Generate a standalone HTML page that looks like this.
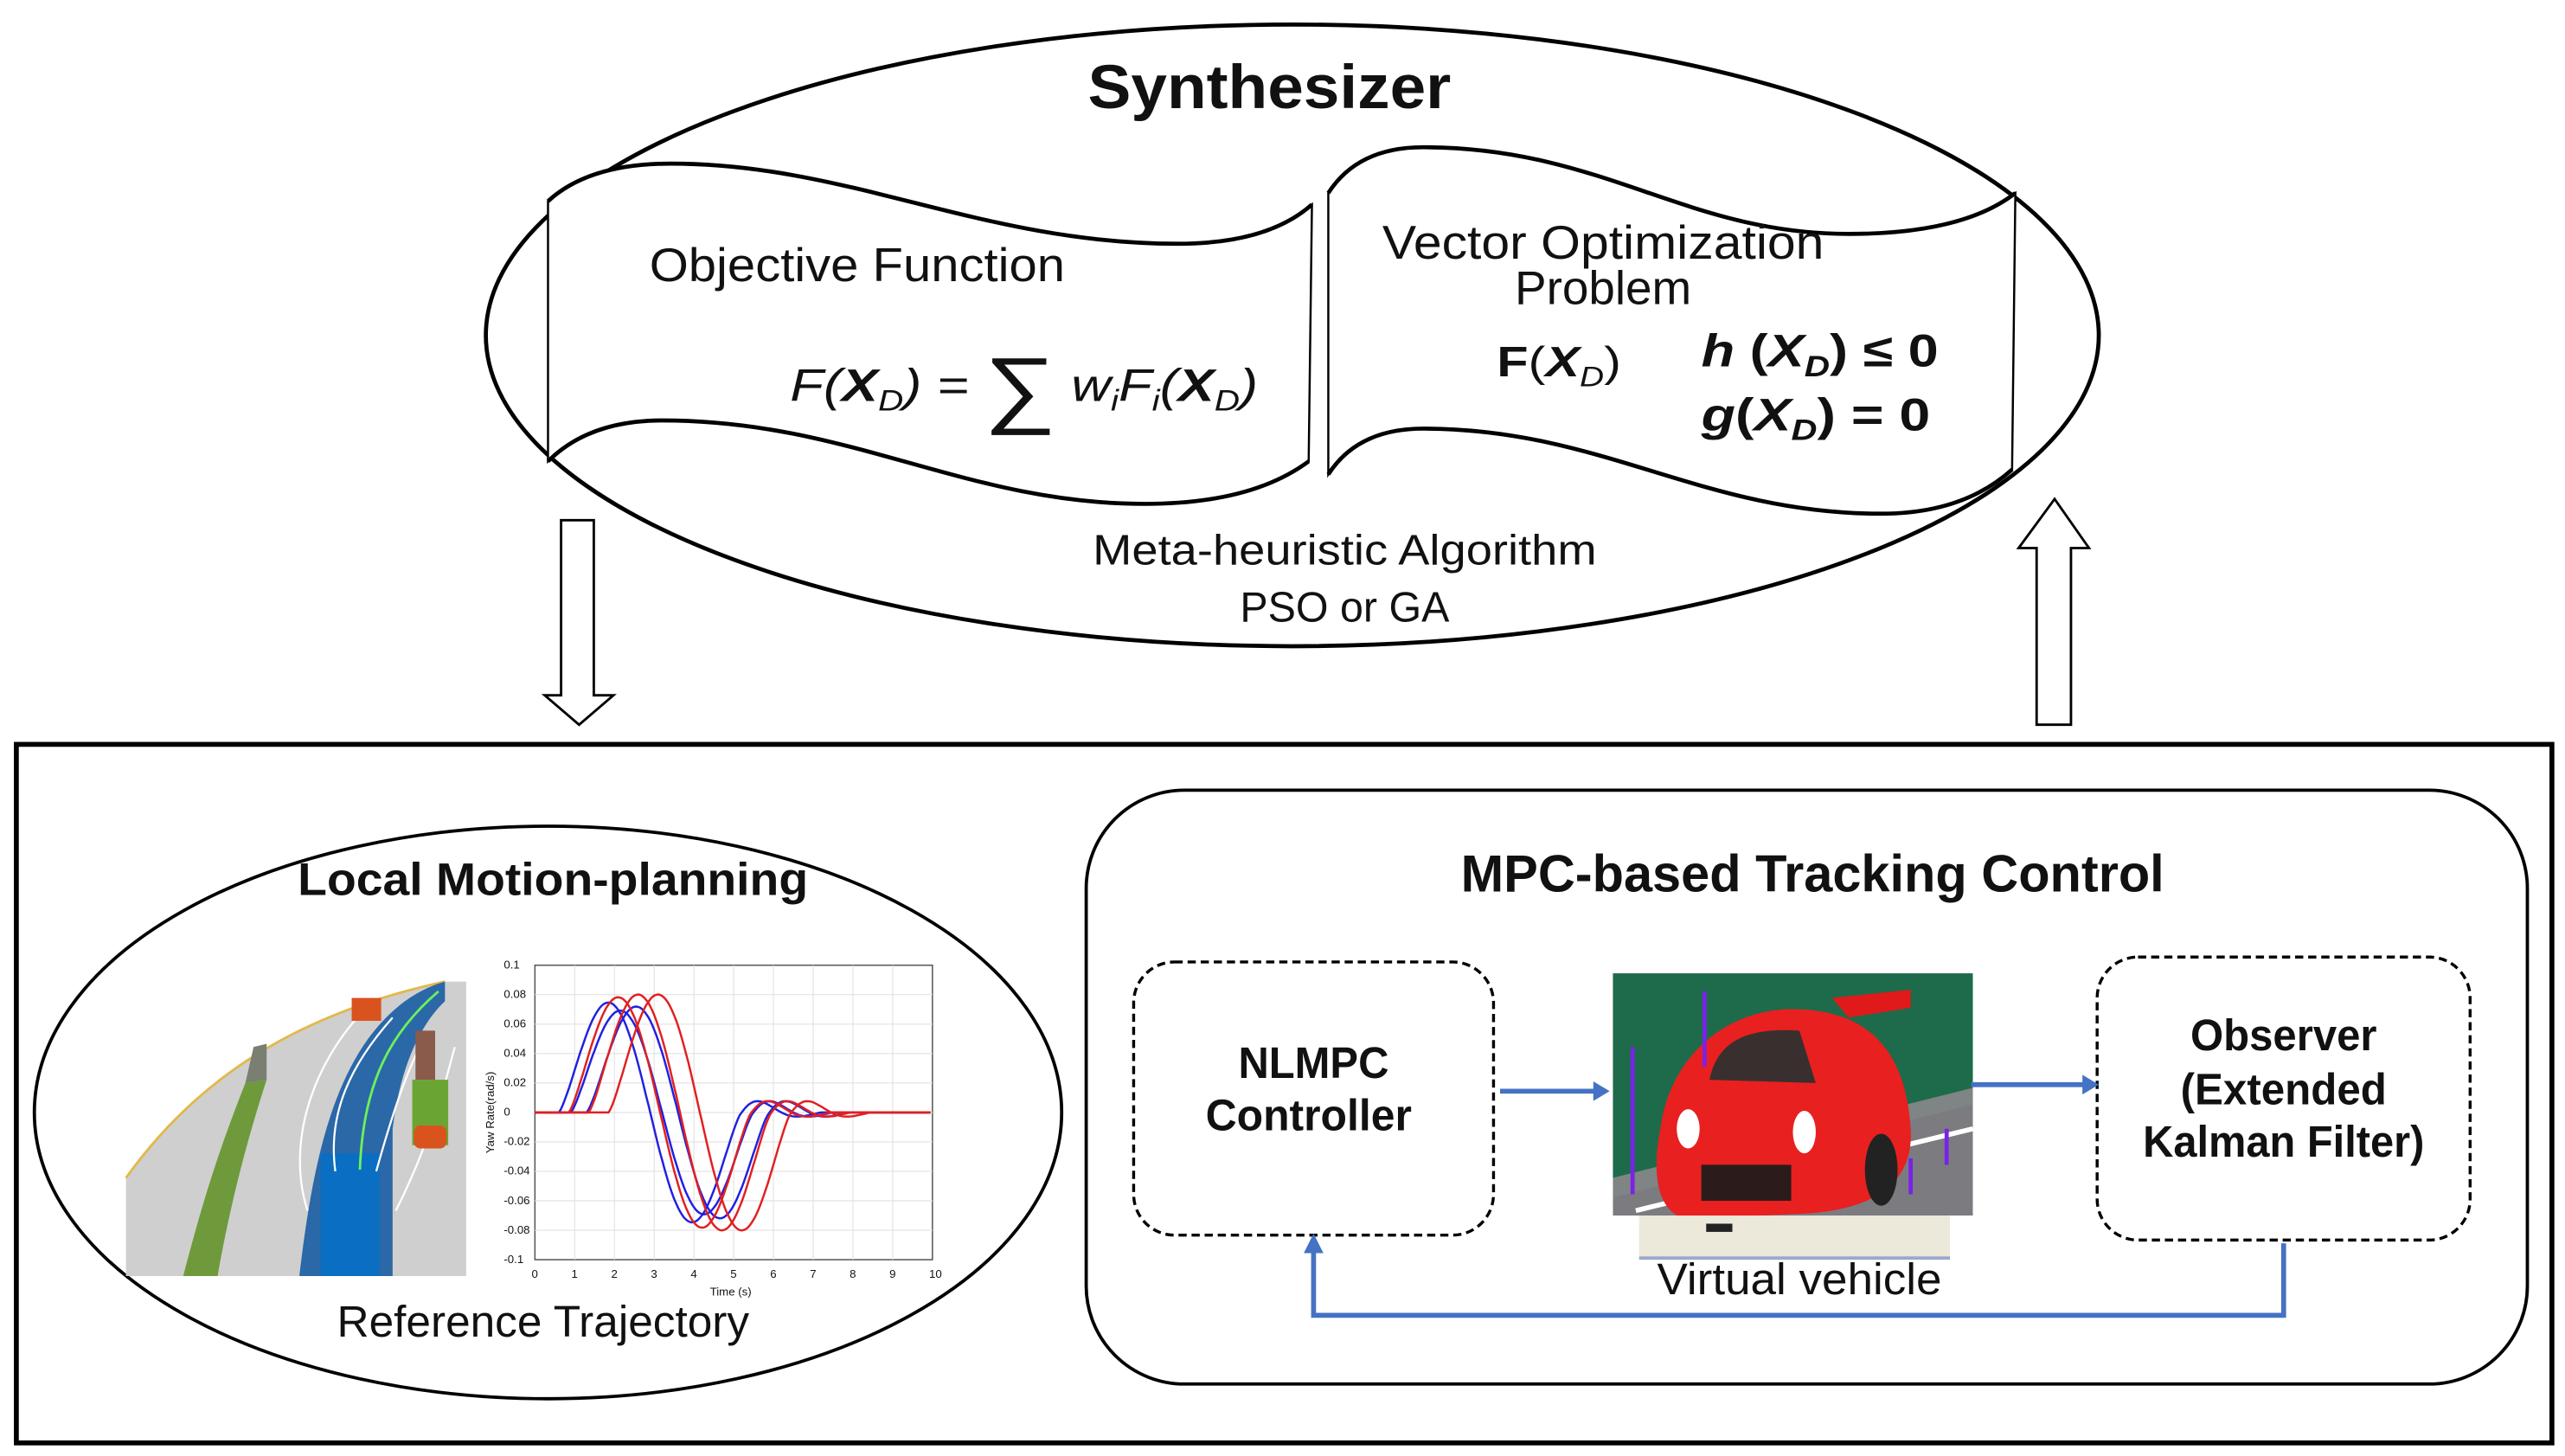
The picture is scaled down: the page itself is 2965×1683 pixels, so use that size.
<!DOCTYPE html>
<html><head><meta charset="utf-8"><style>
html,body{margin:0;padding:0;background:#fff;}
svg{display:block;}
text{font-family:"Liberation Sans",sans-serif;fill:#111;}
</style></head><body>
<svg id="s" width="2965" height="1683" viewBox="0 0 1568 890" preserveAspectRatio="none" xmlns="http://www.w3.org/2000/svg">
<rect width="1568" height="890" fill="#fff"/>
<!-- Synthesizer ellipse -->
<ellipse cx="790" cy="205" rx="493" ry="190" fill="none" stroke="#000" stroke-width="2.5"/>
<text x="776" y="66" font-size="38" font-weight="bold" text-anchor="middle" textLength="222" lengthAdjust="spacingAndGlyphs">Synthesizer</text>
<!-- left banner -->
<path d="M335,123 Q360,100 410,100 C520,100 600,149 720,149 Q775,149 802,125 L800,282 Q765,308 700,308 C590,308 520,257 405,257 Q360,257 335,282 Z" fill="#fff" stroke="#000" stroke-width="1.3"/>
<path d="M335,123 Q360,100 410,100 C520,100 600,149 720,149 Q775,149 802,125" fill="none" stroke="#000" stroke-width="2.5"/>
<path d="M335,282 Q360,257 405,257 C520,257 590,308 700,308 Q765,308 800,282" fill="none" stroke="#000" stroke-width="2.5"/>
<!-- right banner -->
<path d="M812,118 Q830,90 870,90 C980,90 1030,143 1130,143 Q1200,143 1232,118 L1230,287 Q1200,314 1150,314 C1040,314 980,262 870,262 Q830,262 812,290 Z" fill="#fff" stroke="#000" stroke-width="1.3"/>
<path d="M812,118 Q830,90 870,90 C980,90 1030,143 1130,143 Q1200,143 1232,118" fill="none" stroke="#000" stroke-width="2.5"/>
<path d="M812,290 Q830,262 870,262 C980,262 1040,314 1150,314 Q1200,314 1230,287" fill="none" stroke="#000" stroke-width="2.5"/>
<text x="397" y="172" font-size="29" textLength="254" lengthAdjust="spacingAndGlyphs">Objective Function</text>
<text x="483" y="245" font-size="28" font-family="Liberation Serif" font-style="italic" textLength="286" lengthAdjust="spacingAndGlyphs">F(<tspan font-weight="bold">X</tspan><tspan font-size="18" dy="6">D</tspan><tspan dy="-6">) = </tspan><tspan font-size="52" font-style="normal" dy="10">∑</tspan><tspan dy="-10"> w</tspan><tspan font-size="18" dy="6">i</tspan><tspan dy="-6">F</tspan><tspan font-size="18" dy="6">i</tspan><tspan dy="-6">(</tspan><tspan font-weight="bold">X</tspan><tspan font-size="18" dy="6">D</tspan><tspan dy="-6">)</tspan></text>
<text x="845" y="158" font-size="29" textLength="270" lengthAdjust="spacingAndGlyphs">Vector Optimization</text>
<text x="980" y="186" font-size="29" text-anchor="middle">Problem</text>
<text x="915" y="230" font-size="26" font-family="Liberation Serif" textLength="76" lengthAdjust="spacingAndGlyphs"><tspan font-family="Liberation Sans" font-weight="bold">F</tspan>(<tspan font-weight="bold" font-style="italic">X</tspan><tspan font-size="17" font-style="italic" dy="6">D</tspan><tspan dy="-6">)</tspan></text>
<text x="1040" y="224" font-size="28" font-family="Liberation Serif" font-weight="bold" textLength="145" lengthAdjust="spacingAndGlyphs"><tspan font-style="italic">h</tspan> (<tspan font-style="italic">X</tspan><tspan font-size="18" font-style="italic" dy="6">D</tspan><tspan dy="-6">) ≤ 0</tspan></text>
<text x="1040" y="263" font-size="28" font-family="Liberation Serif" font-weight="bold" textLength="140" lengthAdjust="spacingAndGlyphs"><tspan font-style="italic">g</tspan>(<tspan font-style="italic">X</tspan><tspan font-size="18" font-style="italic" dy="6">D</tspan><tspan dy="-6">) = 0</tspan></text>
<text x="822" y="345" font-size="26" text-anchor="middle" textLength="308" lengthAdjust="spacingAndGlyphs">Meta-heuristic Algorithm</text>
<text x="822" y="380" font-size="26" text-anchor="middle" textLength="128" lengthAdjust="spacingAndGlyphs">PSO or GA</text>
<!-- arrows -->
<path d="M343,318 L363,318 L363,425 L375,425 L354,443 L333,425 L343,425 Z" fill="#fff" stroke="#000" stroke-width="1.5"/>
<path d="M1245,443 L1266,443 L1266,335 L1277,335 L1256,305 L1234,335 L1245,335 Z" fill="#fff" stroke="#000" stroke-width="1.5"/>
<!-- outer box -->
<rect x="10" y="455" width="1550" height="427" fill="none" stroke="#000" stroke-width="3"/>
<!-- left ellipse -->
<ellipse cx="335" cy="680" rx="314" ry="175" fill="none" stroke="#000" stroke-width="2"/>
<text x="338" y="547" font-size="28" font-weight="bold" text-anchor="middle" textLength="312" lengthAdjust="spacingAndGlyphs">Local Motion-planning</text>
<!-- road image -->
<g>
<path d="M77,720 C120,660 180,620 272,600 L285,600 L285,780 L77,780 Z" fill="#cfcfcf"/>
<path d="M77,720 C120,660 180,620 272,600" fill="none" stroke="#e2b84a" stroke-width="1.5"/>
<path d="M112,780 C125,730 135,700 150,662 L163,660 C150,700 140,740 133,780 Z" fill="#6f9a3c"/>
<path d="M150,662 L155,640 L163,638 L163,660 Z" fill="#7a7f72"/>
<path d="M183,780 C190,720 200,670 225,635 C240,615 255,605 272,600 L272,612 C258,625 245,650 240,690 L240,780 Z" fill="#2a68a8"/>
<rect x="196" y="705" width="36" height="75" fill="#0a6fc2"/>
<path d="M220,715 C222,660 240,630 268,606" fill="none" stroke="#6ef05a" stroke-width="1.5"/>
<path d="M205,716 C200,680 215,650 240,622 M230,716 C240,680 250,650 262,630 M188,740 C175,700 190,650 225,615 M242,740 C262,700 270,670 278,640" fill="none" stroke="#fff" stroke-width="1.2"/>
<rect x="215" y="610" width="18" height="14" fill="#d9531e"/>
<rect x="252" y="660" width="22" height="40" fill="#6aa533"/>
<rect x="253" y="688" width="20" height="14" rx="4" fill="#d9531e"/>
<rect x="254" y="630" width="12" height="30" fill="#8a5a4a"/>
</g>
<!-- plot -->
<g font-size="7" fill="#333">
<rect x="327" y="590" width="243" height="180" fill="#fff" stroke="#555" stroke-width="0.8"/>
<g id="grid" stroke="#e2e2e2" stroke-width="0.6"></g>
<text x="434" y="792" font-size="7">Time (s)</text>
<text x="0" y="0" font-size="7" transform="translate(302,705) rotate(-90)">Yaw Rate(rad/s)</text>
<g id="ticks"></g>
<g id="curves" fill="none" stroke-width="1.3"></g>
</g>
<!-- MPC box -->
<rect x="664" y="483" width="881" height="363" rx="60" fill="none" stroke="#000" stroke-width="2"/>
<text x="1108" y="545" font-size="32" font-weight="bold" text-anchor="middle" textLength="430" lengthAdjust="spacingAndGlyphs">MPC-based Tracking Control</text>
<rect x="693" y="588" width="220" height="167" rx="25" fill="none" stroke="#000" stroke-width="1.8" stroke-dasharray="5,3"/>
<text x="803" y="659" font-size="27" font-weight="bold" text-anchor="middle" textLength="92" lengthAdjust="spacingAndGlyphs">NLMPC</text>
<text x="800" y="691" font-size="27" font-weight="bold" text-anchor="middle" textLength="126" lengthAdjust="spacingAndGlyphs">Controller</text>
<rect x="1282" y="585" width="228" height="173" rx="25" fill="none" stroke="#000" stroke-width="1.8" stroke-dasharray="5,3"/>
<text x="1396" y="642" font-size="27" font-weight="bold" text-anchor="middle" textLength="114" lengthAdjust="spacingAndGlyphs">Observer</text>
<text x="1396" y="675" font-size="27" font-weight="bold" text-anchor="middle" textLength="126" lengthAdjust="spacingAndGlyphs">(Extended</text>
<text x="1396" y="707" font-size="27" font-weight="bold" text-anchor="middle" textLength="172" lengthAdjust="spacingAndGlyphs">Kalman Filter)</text>
<!-- car image -->
<g>
<rect x="986" y="595" width="220" height="148" fill="#7b7b80"/>
<path d="M986,595 L1206,595 L1206,665 L986,720 Z" fill="#1d6b4a"/>
<path d="M986,720 L1206,665 L1206,675 L986,732 Z" fill="#7f8484"/>
<path d="M1000,740 L1206,690" stroke="#fff" stroke-width="3"/>
<path d="M1120,610 L1168,605 L1168,616 L1130,622 Z" fill="#e01a1a"/>
<path d="M1015,690 C1020,650 1050,620 1090,617 C1140,615 1165,640 1168,690 C1170,720 1150,740 1100,742 L1030,745 C1012,740 1010,715 1015,690 Z" fill="#e82020"/>
<path d="M1045,660 C1050,635 1070,628 1100,630 L1110,662 Z" fill="#3a2f2f"/>
<ellipse cx="1032" cy="690" rx="7" ry="12" fill="#fff"/>
<ellipse cx="1103" cy="692" rx="7" ry="13" fill="#fff"/>
<rect x="1040" y="712" width="55" height="22" fill="#2b1b1b"/>
<ellipse cx="1150" cy="715" rx="10" ry="22" fill="#222"/>
<path d="M1042,606 L1042,652 M998,640 L998,730 M1190,690 L1190,712 M1168,708 L1168,730" stroke="#7a22e8" stroke-width="2.5"/>
<rect x="1002" y="743" width="190" height="27" fill="#ece8da"/>
<rect x="1043" y="748" width="16" height="5" fill="#222"/>
<rect x="1002" y="768" width="190" height="2" fill="#9aa8d0"/>
</g>
<text x="1100" y="791" font-size="27" text-anchor="middle" textLength="174" lengthAdjust="spacingAndGlyphs">Virtual vehicle</text>
<!-- blue arrows -->
<g stroke="#4472c4" stroke-width="3" fill="#4472c4">
<line x1="917" y1="667" x2="976" y2="667"/>
<path d="M984,667 L974,661 L974,673 Z" stroke="none"/>
<line x1="1205" y1="663" x2="1274" y2="663"/>
<path d="M1283,663 L1273,657 L1273,669 Z" stroke="none"/>
<path d="M1396,760 L1396,804 L803,804 L803,765" fill="none"/>
<path d="M803,754 L797,766 L809,766 Z" stroke="none"/>
</g>
<text x="332" y="817" font-size="27" text-anchor="middle" textLength="252" lengthAdjust="spacingAndGlyphs">Reference Trajectory</text>
</svg>
<script>
(function(){
var NS="http://www.w3.org/2000/svg";
function X(t){return 327+t*24.3;}
function Y(v){return 680-v*900;}
var g=document.getElementById('grid'),tk=document.getElementById('ticks'),c=document.getElementById('curves');
for(var i=1;i<10;i++){var l=document.createElementNS(NS,'line');l.setAttribute('x1',X(i));l.setAttribute('x2',X(i));l.setAttribute('y1',590);l.setAttribute('y2',770);g.appendChild(l);}
for(var j=-4;j<=4;j++){var l=document.createElementNS(NS,'line');l.setAttribute('x1',327);l.setAttribute('x2',570);l.setAttribute('y1',Y(j*0.02));l.setAttribute('y2',Y(j*0.02));g.appendChild(l);}
for(var i=0;i<=10;i++){var t=document.createElementNS(NS,'text');t.setAttribute('x',X(i)-2);t.setAttribute('y',781);t.textContent=i;tk.appendChild(t);}
var labs=['0.1','0.08','0.06','0.04','0.02','0','-0.02','-0.04','-0.06','-0.08','-0.1'];
for(var j=0;j<11;j++){var t=document.createElementNS(NS,'text');t.setAttribute('x',308);t.setAttribute('y',Y(0.1-j*0.02)+2);t.textContent=labs[j];tk.appendChild(t);}
var sets=[[0.6,'#2020e0',0.082],[0.9,'#2020e0',0.076],[1.3,'#2020e0',0.079],[0.85,'#e02020',0.086],[1.35,'#e02020',0.088],[1.85,'#e02020',0.088]];
sets.forEach(function(s){var a=s[0],A=s[2],P=4.6,d='';
for(var t=0;t<=10;t+=0.05){var v=0,u=t-a;
if(u>0&&u<P){v=A*Math.sin(2*Math.PI*u/P)*Math.pow(Math.sin(Math.PI*u/P),0.3);}
else if(u>=P&&u<P+2){v=0.012*Math.sin(Math.PI*(u-P)/1.0)*Math.exp(-(u-P));}
d+=(t==0?'M':'L')+X(t).toFixed(1)+','+Y(v).toFixed(1);}
var p=document.createElementNS(NS,'path');p.setAttribute('d',d);p.setAttribute('stroke',s[1]);c.appendChild(p);});
})();
</script>
</body></html>
